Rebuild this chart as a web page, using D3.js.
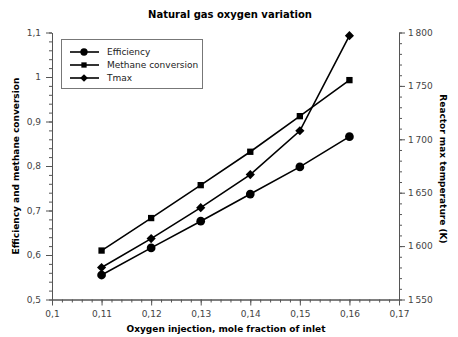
<!DOCTYPE html>
<html><head><meta charset="utf-8">
<script src="https://cdn.jsdelivr.net/npm/d3@7"></script>
<style>
html,body{margin:0;padding:0;background:#fff;}
svg{display:block;font-family:"DejaVu Sans",Verdana,sans-serif;}
</style></head>
<body>
<svg id="chart" width="458" height="337"></svg>
<script>
// ---- data ----
const oxygen = [0.11, 0.12, 0.13, 0.14, 0.15, 0.16];
const efficiency = [0.555, 0.616, 0.676, 0.737, 0.798, 0.866];
const methaneConversion = [0.610, 0.683, 0.757, 0.832, 0.912, 0.993];
const tmax = [1580, 1607, 1636, 1667, 1708, 1797];
const xTicks = [0.1, 0.11, 0.12, 0.13, 0.14, 0.15, 0.16, 0.17];
const yLeftTicks = [0.5, 0.6, 0.7, 0.8, 0.9, 1.0, 1.1];
const yRightTicks = [1550, 1600, 1650, 1700, 1750, 1800];
const seriesNames = ["Efficiency", "Methane conversion", "Tmax"];
const titleText = "Natural gas oxygen variation";
const xLabel = "Oxygen injection, mole fraction of inlet";
const yLeftLabel = "Efficiency and methane conversion";
const yRightLabel = "Reactor max temperature (K)";

const svg = d3.select("#chart");
const L = 52, R = 399, T = 32.5, B = 299.5;

const x = d3.scaleLinear().domain([0.1, 0.17]).range([L, R]);
const yL = d3.scaleLinear().domain([0.5, 1.1]).range([B, T]);
const yR = d3.scaleLinear().domain([1550, 1800]).range([B, T]);

const loc = d3.formatLocale({decimal: ",", thousands: "\u2009", grouping: [3], currency: ["", ""]});
const fDec = loc.format("~f");
const fInt = loc.format(",d");

const axisColor = "#555", labelColor = "#444";

function styleAxis(g) {
  g.select(".domain").attr("stroke", axisColor);
  g.selectAll(".tick line").attr("stroke", axisColor);
  g.selectAll(".tick text").attr("fill", labelColor).style("font-size", "9px")
   .style("font-family", "'DejaVu Sans',Verdana,sans-serif");
}

// minor ticks
const xMinor = d3.range(0.1, 0.1701, 0.002).map(v => +v.toFixed(3));
const yLMinor = d3.range(0.5, 1.1001, 0.02).map(v => +v.toFixed(2));
const yRMinor = d3.range(1550, 1801, 10);

svg.append("g").attr("transform", `translate(0,${B})`)
  .call(d3.axisBottom(x).tickValues(xMinor).tickFormat("").tickSize(3).tickSizeOuter(0)).call(styleAxis);
svg.append("g").attr("transform", `translate(${L},0)`)
  .call(d3.axisLeft(yL).tickValues(yLMinor).tickFormat("").tickSize(3).tickSizeOuter(0)).call(styleAxis);
svg.append("g").attr("transform", `translate(${R},0)`)
  .call(d3.axisRight(yR).tickValues(yRMinor).tickFormat("").tickSize(3).tickSizeOuter(0)).call(styleAxis);

svg.append("g").attr("transform", `translate(0,${B})`)
  .call(d3.axisBottom(x).tickValues(xTicks).tickFormat(fDec).tickSize(6).tickPadding(5).tickSizeOuter(0)).call(styleAxis);
svg.append("g").attr("transform", `translate(${L},0)`)
  .call(d3.axisLeft(yL).tickValues(yLeftTicks).tickFormat(fDec).tickSize(6).tickPadding(5).tickSizeOuter(0)).call(styleAxis);
svg.append("g").attr("transform", `translate(${R},0)`)
  .call(d3.axisRight(yR).tickValues(yRightTicks).tickFormat(fInt).tickSize(6).tickPadding(3).tickSizeOuter(0)).call(styleAxis);

// titles
svg.append("text").attr("x", 230).attr("y", 18).attr("text-anchor", "middle")
  .style("font-size", "10px").style("font-weight", "bold").text(titleText);
svg.append("text").attr("x", 226).attr("y", 332).attr("text-anchor", "middle")
  .style("font-size", "9px").style("font-weight", "bold").text(xLabel);
svg.append("text").attr("transform", `translate(19,${(T + B) / 2}) rotate(-90)`).attr("text-anchor", "middle")
  .style("font-size", "9px").style("font-weight", "bold").text(yLeftLabel);
svg.append("text").attr("transform", `translate(440,${(T + B) / 2 + 3}) rotate(90)`).attr("text-anchor", "middle")
  .style("font-size", "9px").style("font-weight", "bold").text(yRightLabel);

// series
const series = [
  {name: seriesNames[0], vals: efficiency, y: yL, sym: d3.symbolCircle, size: 60, rot: 0},
  {name: seriesNames[1], vals: methaneConversion, y: yL, sym: d3.symbolSquare, size: 40, rot: 0},
  {name: seriesNames[2], vals: tmax, y: yR, sym: d3.symbolSquare, size: 42, rot: 45}
];
series.forEach(s => {
  const pts = oxygen.map((o, i) => [x(o), s.y(s.vals[i])]);
  svg.append("path").attr("d", d3.line()(pts)).attr("fill", "none").attr("stroke", "#000").attr("stroke-width", 1.6);
  svg.selectAll(null).data(pts).enter().append("path")
    .attr("transform", d => `translate(${d[0]},${d[1]}) rotate(${s.rot})`)
    .attr("d", d3.symbol().type(s.sym).size(s.size)).attr("fill", "#000");
});

// legend
const lg = svg.append("g");
lg.append("rect").attr("x", 61.5).attr("y", 39.5).attr("width", 141).attr("height", 49)
  .attr("fill", "#fff").attr("stroke", "#777");
series.forEach((s, i) => {
  const yy = 52 + i * 13;
  lg.append("line").attr("x1", 70).attr("x2", 99).attr("y1", yy).attr("y2", yy).attr("stroke", "#000").attr("stroke-width", 1.6);
  lg.append("path").attr("transform", `translate(84,${yy}) rotate(${s.rot})`).attr("d", d3.symbol().type(s.sym).size(s.size * 0.7)).attr("fill", "#000");
  lg.append("text").attr("x", 107).attr("y", yy + 3).style("font-size", "9px").attr("fill", "#222").text(s.name);
});
</script>
</body></html>
